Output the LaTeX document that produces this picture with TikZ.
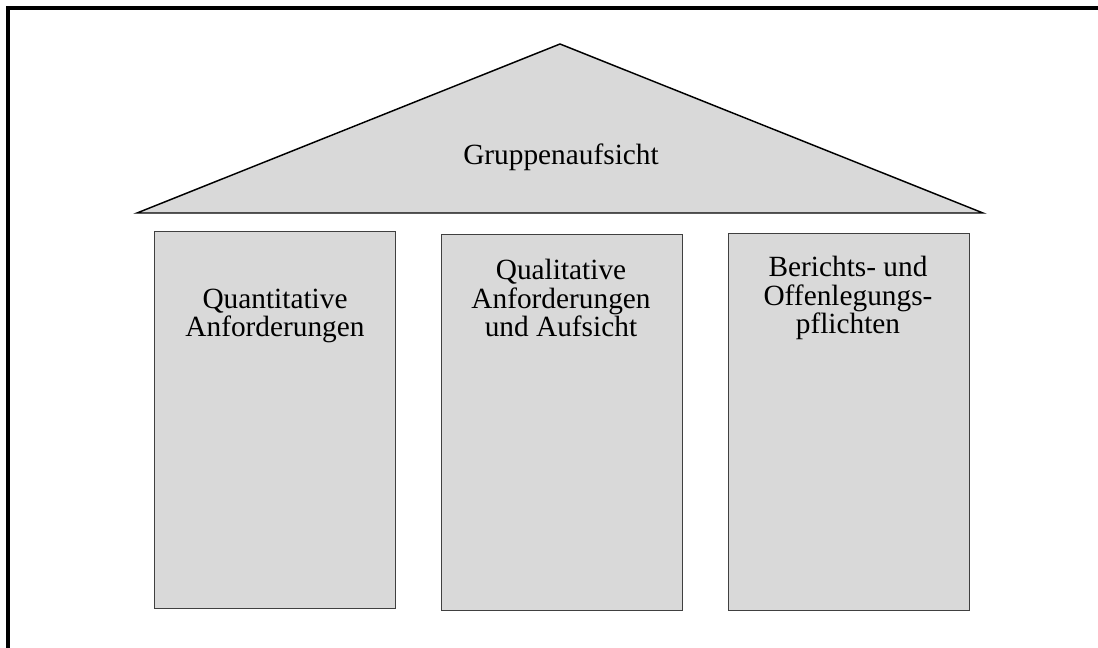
\documentclass[tikz,border=0pt]{standalone}
\usepackage{fontspec}
\setmainfont{Liberation Serif}
\usetikzlibrary{positioning}

\begin{document}
\begin{tikzpicture}[x=0.75pt, y=-0.75pt,
    roof/.style={draw=black, fill=gray!30, line width=1.1pt, line join=miter},
    pillar/.style={draw=black!75, fill=gray!30, line width=1.1pt, rectangle, anchor=north west, minimum width=180.75pt, minimum height=282.75pt},
    caption/.style={align=center, text=black, font=\fontsize{22}{21.4}\selectfont}]
\useasboundingbox (0,0) rectangle (1098,648);
% outer frame, open to the right and below
\draw[line width=2.4pt] (8,660) -- (8,8) -- (1110,8);
%============
\coordinate (RL) at (137,213);
\coordinate (RT) at (560,44);
\coordinate (RR) at (983,213);
\draw[roof] (RL) -- (RT) -- (RR) -- cycle;
\node[caption] (G) at (561,157) {Gruppenaufsicht};
%============
\node[pillar] (P1) at (154,231) {};
\node[pillar, minimum height=282pt] (P2) at (441,234) {};
\node[pillar, minimum height=282.75pt] (P3) at (728,233) {};
%==========
\node[caption] (T1) at (275,316) {Quantitative\\Anforderungen};
\node[caption] (T2) at (561,298) {Qualitative\\Anforderungen\\und Aufsicht};
\node[caption] (T3) at (848,298) {Berichts- und\\Offenlegungs-\\pflichten};
\end{tikzpicture}
\end{document}
